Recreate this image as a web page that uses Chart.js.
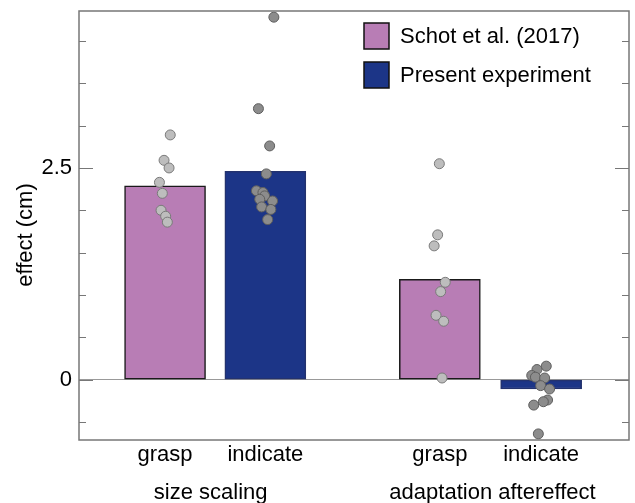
<!DOCTYPE html>
<html>
<head>
<meta charset="utf-8">
<script src="https://cdn.jsdelivr.net/npm/chart.js@4/dist/chart.umd.min.js"></script>
<style>
  body { margin: 0; background: #fff; }
</style>
</head>
<body>
<canvas id="effectChart" width="635" height="503"></canvas>
<script>
// Categories and groups
const categories = ['grasp', 'indicate', 'grasp', 'indicate'];
const groups = ['size scaling', 'adaptation aftereffect'];
const xPos = [1, 2, 3.74, 4.75];
const groupX = [1.455, 4.265];

// Bar means (cm)
const schotMeans = [2.29, 1.185];     // size scaling grasp, adaptation grasp
const presentMeans = [2.46, -0.11];   // size scaling indicate, adaptation indicate

// Individual participants (x includes jitter)
const sizeGraspX = [1.052, 0.990, 1.040, 0.944, 0.973, 0.960, 1.006, 1.023];
const sizeGraspY = [2.89, 2.59, 2.50, 2.33, 2.20, 2.00, 1.93, 1.86];
const sizeIndicateX = [2.085, 1.931, 2.043, 2.010, 1.911, 1.976, 1.993, 1.944, 2.072, 1.963, 2.055, 2.023];
const sizeIndicateY = [4.28, 3.20, 2.76, 2.43, 2.23, 2.21, 2.17, 2.13, 2.11, 2.04, 2.01, 1.89];
const adaptGraspX = [3.735, 3.718, 3.683, 3.794, 3.748, 3.702, 3.778, 3.762];
const adaptGraspY = [2.55, 1.71, 1.58, 1.15, 1.04, 0.76, 0.69, 0.02];
const adaptIndicateX = [4.801, 4.708, 4.656, 4.693, 4.785, 4.745, 4.834, 4.814, 4.772, 4.676, 4.722];
const adaptIndicateY = [0.16, 0.12, 0.05, 0.03, 0.02, -0.07, -0.11, -0.24, -0.26, -0.30, -0.64];

// Y ticks every 0.5, only some labelled
const yTicks = [-0.5, 0, 0.5, 1, 1.5, 2, 2.5, 3, 3.5, 4];
const yLabelled = [0, 2.5];

const FONT = "'Liberation Sans', Arial, Helvetica, sans-serif";
Chart.defaults.font.family = FONT;
Chart.defaults.color = '#000';

const toPts = (xs, ys) => xs.map((x, i) => ({ x: x, y: ys[i] }));

// Frame, inward ticks, legend, group labels, axis title
const decorations = {
  id: 'decorations',
  afterDatasetsDraw(chart) {
    const { ctx, chartArea: a, scales: { y, x } } = chart;
    ctx.save();
    ctx.strokeStyle = '#777';
    ctx.lineWidth = 1.5;
    ctx.strokeRect(a.left, a.top, a.right - a.left, a.bottom - a.top);

    ctx.lineWidth = 1;
    yTicks.forEach(v => {
      const py = Math.round(y.getPixelForValue(v)) + 0.5;
      const len = yLabelled.includes(v) ? 14 : 7;
      ctx.beginPath();
      ctx.moveTo(a.left, py); ctx.lineTo(a.left + len, py);
      ctx.moveTo(a.right, py); ctx.lineTo(a.right - len, py);
      ctx.stroke();
    });

    // legend
    const bars = chart.data.datasets.filter(d => d.type === 'bar');
    ctx.font = '22px ' + FONT;
    ctx.textBaseline = 'middle';
    ctx.textAlign = 'left';
    bars.forEach((d, i) => {
      const top = 23 + i * 39;
      ctx.fillStyle = d.backgroundColor;
      ctx.fillRect(364, top, 25, 26);
      ctx.strokeStyle = '#111';
      ctx.lineWidth = 1.5;
      ctx.strokeRect(364, top, 25, 26);
      ctx.fillStyle = '#000';
      ctx.fillText(d.label, 400, top + 14);
    });

    // group labels
    ctx.textAlign = 'center';
    ctx.textBaseline = 'alphabetic';
    groups.forEach((g, i) => {
      ctx.fillText(g, x.getPixelForValue(groupX[i]), 499);
    });

    // y title
    ctx.translate(26, 235);
    ctx.rotate(-Math.PI / 2);
    ctx.textBaseline = 'middle';
    ctx.fillText('effect (cm)', 0, 0);
    ctx.restore();
  }
};

const ctx = document.getElementById('effectChart').getContext('2d');
new Chart(ctx, {
  type: 'bar',
  data: {
    datasets: [
      {
        type: 'bar',
        label: 'Schot et al. (2017)',
        data: [{ x: xPos[0], y: schotMeans[0] }, { x: xPos[2], y: schotMeans[1] }],
        backgroundColor: '#b87db5',
        borderColor: '#1a1a1a',
        borderWidth: 1.5,
        borderSkipped: false,
        barThickness: 81,
        grouped: false,
        order: 3
      },
      {
        type: 'bar',
        label: 'Present experiment',
        data: [{ x: xPos[1], y: presentMeans[0] }, { x: xPos[3], y: presentMeans[1] }],
        backgroundColor: '#1c3587',
        borderColor: '#23326e',
        borderWidth: 1.5,
        borderSkipped: false,
        barThickness: 81,
        grouped: false,
        order: 3
      },
      {
        type: 'scatter',
        data: toPts(sizeGraspX, sizeGraspY).concat(toPts(adaptGraspX, adaptGraspY)),
        backgroundColor: '#bdbdbd',
        borderColor: '#7a7a7a',
        borderWidth: 1,
        pointRadius: 5,
        order: 1
      },
      {
        type: 'scatter',
        data: toPts(sizeIndicateX, sizeIndicateY).concat(toPts(adaptIndicateX, adaptIndicateY)),
        backgroundColor: '#8c8c8c',
        borderColor: '#5e5e5e',
        borderWidth: 1,
        pointRadius: 5,
        order: 1
      }
    ]
  },
  options: {
    responsive: false,
    animation: false,
    layout: { padding: { top: 11, right: 2, left: 0, bottom: 0 } },
    plugins: { legend: { display: false }, tooltip: { enabled: false } },
    scales: {
      x: {
        type: 'linear',
        min: 0.142,
        max: 5.626,
        offset: false,
        afterBuildTicks: s => { s.ticks = xPos.map(v => ({ value: v })); },
        afterFit: s => { s.height = 63; s.paddingLeft = 0; s.paddingRight = 0; },
        ticks: {
          autoSkip: false,
          maxRotation: 0,
          padding: 2,
          font: { size: 22 },
          color: '#000',
          callback: (v, i) => categories[i]
        },
        grid: { display: false, drawTicks: false },
        border: { display: false }
      },
      y: {
        min: -0.712,
        max: 4.353,
        afterBuildTicks: s => { s.ticks = yTicks.map(v => ({ value: v })); },
        afterFit: s => { s.width = 79; s.paddingTop = 0; s.paddingBottom = 0; },
        ticks: {
          autoSkip: false,
          padding: 7,
          font: { size: 22 },
          color: '#000',
          callback: v => yLabelled.includes(v) ? String(v) : ''
        },
        grid: {
          drawTicks: false,
          color: c => c.tick && c.tick.value === 0 ? '#999' : 'rgba(0,0,0,0)',
          lineWidth: 1
        },
        border: { display: false }
      }
    }
  },
  plugins: [decorations]
});
</script>
</body>
</html>
